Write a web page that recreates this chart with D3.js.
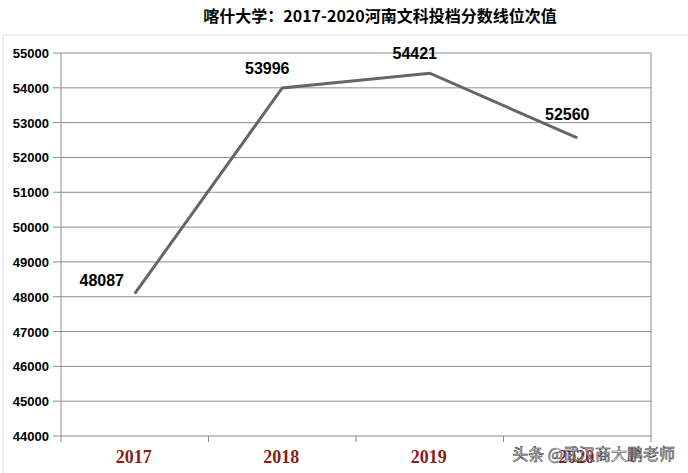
<!DOCTYPE html><html><head><meta charset="utf-8"><script src="https://d3js.org/d3.v7.min.js"></script>
<style>body{margin:0;background:#fff}</style></head><body><svg id="c" width="688" height="473"></svg>
<script>
const categories=["2017","2018","2019","2020"];
const values=[48087,53996,54421,52560];
const yTicks=[44000,45000,46000,47000,48000,49000,50000,51000,52000,53000,54000,55000];
const svg=d3.select("#c");
const x=d3.scaleBand().domain(categories).range([61,651]);
const y=d3.scaleLinear().domain([44000,55000]).range([436,53]);
svg.append("rect").attr("x",3).attr("y",35).attr("width",690).attr("height",450).attr("fill","none").attr("stroke","#ddd");
svg.append("text").attr("x",380).attr("y",22).attr("text-anchor","middle").attr("font-family","Noto Sans CJK SC").attr("font-weight","bold").attr("font-size",16).text("喀什大学：2017-2020河南文科投档分数线位次值");
yTicks.forEach(t=>{
 svg.append("line").attr("x1",53).attr("x2",651).attr("y1",y(t)).attr("y2",y(t)).attr("stroke","#8c8c8c").attr("stroke-width",1);
 svg.append("text").attr("x",49).attr("y",y(t)+5).attr("text-anchor","end").attr("font-family","Liberation Sans").attr("font-weight","bold").attr("font-size",13).text(t);
});
svg.append("line").attr("x1",61).attr("x2",61).attr("y1",53).attr("y2",436).attr("stroke","#8c8c8c");
svg.append("line").attr("x1",651).attr("x2",651).attr("y1",53).attr("y2",436).attr("stroke","#8c8c8c");
[0,1,2,3,4].forEach(i=>{const xx=61+i*x.bandwidth();svg.append("line").attr("x1",xx).attr("x2",xx).attr("y1",436).attr("y2",442).attr("stroke","#8c8c8c");});
categories.forEach(c=>svg.append("text").attr("x",x(c)+x.bandwidth()/2-1).attr("y",463).attr("text-anchor","middle").attr("font-family","Liberation Serif").attr("font-weight","bold").attr("font-size",18).attr("fill","#8b1a1a").text(c));
const line=d3.line().x((d,i)=>x(categories[i])+x.bandwidth()/2).y(d=>y(d));
svg.append("path").attr("d",line(values)).attr("fill","none").attr("stroke","#666").attr("stroke-width",3);
const off=[[-33,-8],[-15,-14],[-15,-14],[-10,-18]];
values.forEach((v,i)=>svg.append("text").attr("x",x(categories[i])+x.bandwidth()/2+off[i][0]).attr("y",y(v)+off[i][1]).attr("text-anchor","middle").attr("font-family","Liberation Sans").attr("font-weight","bold").attr("font-size",16).text(v));
svg.append("text").attr("x",675).attr("y",460).attr("text-anchor","end").attr("font-family","Noto Sans CJK SC").attr("font-size",16).attr("fill","#fff").attr("stroke","#333").attr("stroke-width",0.6).text("头条 @武汉商大鹏老师");
</script></body></html>
